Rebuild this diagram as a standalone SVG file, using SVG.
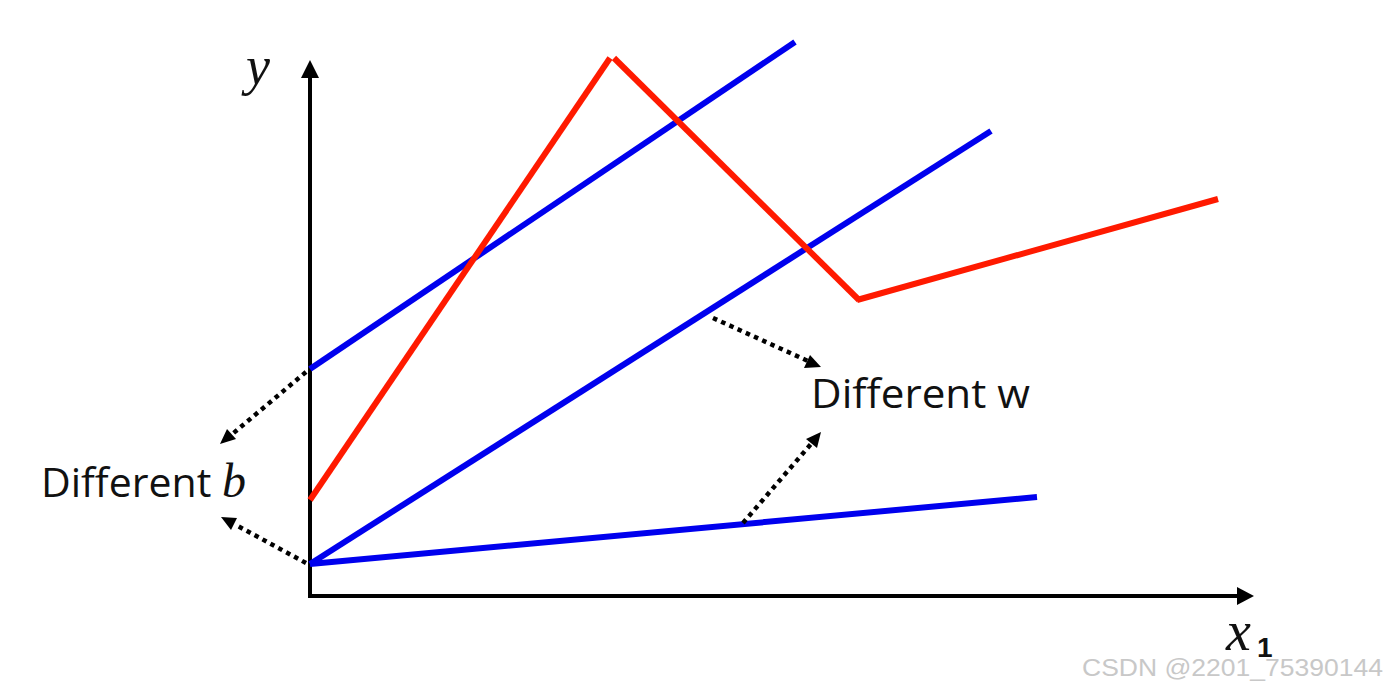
<svg xmlns="http://www.w3.org/2000/svg" width="1388" height="691" viewBox="0 0 1388 691">
<defs>
<style>
.ax{stroke:#000;stroke-width:4;fill:none}
.blue{stroke:#0000ee;stroke-width:6;fill:none;stroke-linecap:butt}
.red{stroke:#ff1a00;stroke-width:6;fill:none;stroke-linejoin:miter}
.dot{stroke:#000;stroke-width:4.5;stroke-dasharray:4.5 4.5;fill:none}
.lbl{font-family:"Open Sans","Liberation Sans",sans-serif;font-size:41px;fill:#111}
.math{font-family:"Liberation Serif","DejaVu Serif",serif;font-style:italic;fill:#111}
</style>
</defs>
<rect width="1388" height="691" fill="#fff"/>
<g id="axes">
<line class="ax" x1="310" y1="598" x2="310" y2="76"/>
<polygon points="310,60 301,78 319,78" fill="#000"/>
<line class="ax" x1="308" y1="596" x2="1238" y2="596"/>
<polygon points="1254,596 1237,587 1237,605" fill="#000"/>
</g>
<g id="lines">
<line class="blue" x1="310" y1="369" x2="795" y2="42"/>
<line class="blue" x1="310" y1="564" x2="991" y2="131"/>
<line class="blue" x1="310" y1="564" x2="1037" y2="497"/>
<polyline class="red" points="310,500 610,58"/>
<polyline class="red" points="614,58 859,300"/>
<line class="red" x1="857" y1="300" x2="1218" y2="199"/>
</g>
<g id="connectors">
<line class="dot" x1="306" y1="372" x2="230" y2="436"/>
<polygon points="220,444 227,429 236,439" fill="#000"/>
<line class="dot" x1="306" y1="563" x2="236" y2="525"/>
<polygon points="221,517 237,518 231,530" fill="#000"/>
<line class="dot" x1="713" y1="318" x2="808" y2="361"/>
<polygon points="821,367 804,368 810,355" fill="#000"/>
<line class="dot" x1="743" y1="523" x2="811" y2="444"/>
<polygon points="821,432 817,448 806,439" fill="#000"/>
</g>
<g id="label-b">
<text class="lbl" x="41" y="497">Different <tspan class="math" font-size="48">b</tspan></text>
</g>
<g id="label-w">
<text class="lbl" x="811" y="408" textLength="219" lengthAdjust="spacingAndGlyphs">Different w</text>
</g>
<g id="label-y">
<text class="math" x="246" y="84" font-size="54">y</text>
</g>
<g id="label-x">
<text class="math" x="1226" y="650" font-size="56">x</text>
<text font-family="'Liberation Sans',sans-serif" font-weight="bold" x="1257" y="657" font-size="28" fill="#111">1</text>
</g>
<text x="1082" y="676" font-family="'Liberation Sans',sans-serif" font-size="23" fill="#c8c8c8" textLength="301" lengthAdjust="spacingAndGlyphs">CSDN @2201_75390144</text>
</svg>
